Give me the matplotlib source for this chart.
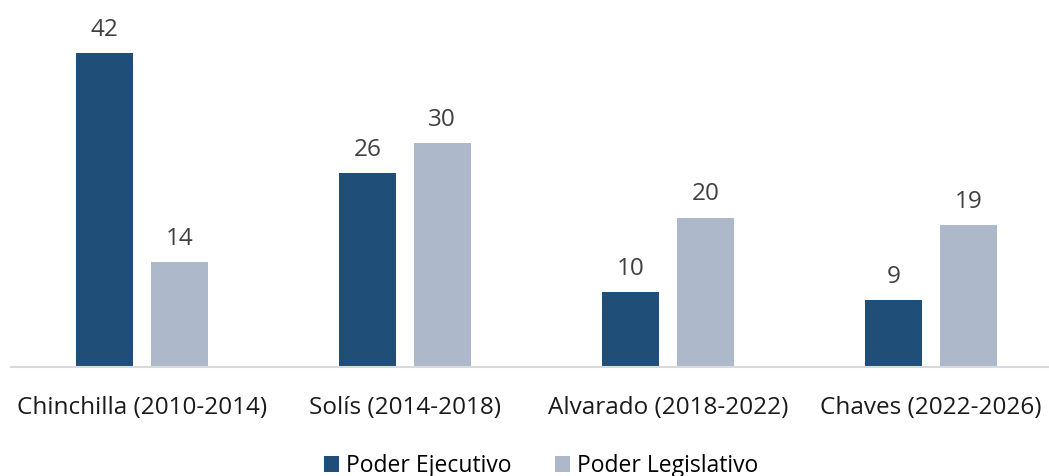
import matplotlib.pyplot as plt
import numpy as np

plt.rcParams['font.family'] = ['Open Sans', 'DejaVu Sans']

periods = ['Chinchilla (2010-2014)', 'Solís (2014-2018)', 'Alvarado (2018-2022)', 'Chaves (2022-2026)']
ejecutivo = [42, 26, 10, 9]
legislativo = [14, 30, 20, 19]

dark = '#1F4E79'
light = '#ADB9CA'

fig = plt.figure(figsize=(10.49, 4.76), dpi=100)
# axes spans from x=10px to 1063px (past right edge), baseline at y=367px
ax = fig.add_axes([10.5 / 1049, 109 / 476, 1052 / 1049, 367 / 476])

x = np.arange(len(periods))
w = 0.217
off = 0.1416
b1 = ax.bar(x - off, ejecutivo, w, color=dark, label='Poder Ejecutivo')
b2 = ax.bar(x + off, legislativo, w, color=light, label='Poder Legislativo')

for bars in (b1, b2):
    for r in bars:
        ax.annotate(f'{int(r.get_height())}', (r.get_x() + r.get_width() / 2, r.get_height()),
                    xytext=(0, 8), textcoords='offset points', ha='center', va='bottom',
                    fontsize=17.5, color='#404040')

ax.set_xlim(-0.5, 3.5)
ax.set_ylim(0, 49.1)
ax.set_xticks(x)
ax.set_xticklabels(periods, fontsize=17.5, color='#1a1a1a')
ax.tick_params(axis='x', length=0, pad=21)
ax.set_yticks([])
for s in ['top', 'right', 'left']:
    ax.spines[s].set_visible(False)
ax.spines['bottom'].set_color('#D9D9D9')
ax.spines['bottom'].set_linewidth(1.5)

fig.legend(handles=[b1, b2], loc='center', bbox_to_anchor=(541 / 1049, 10 / 476), ncol=2,
           frameon=False, fontsize=16.5, handlelength=0.65, handleheight=0.65,
           handletextpad=0.3, columnspacing=1.9, borderaxespad=0)

fig.savefig('out.png', dpi=100)
